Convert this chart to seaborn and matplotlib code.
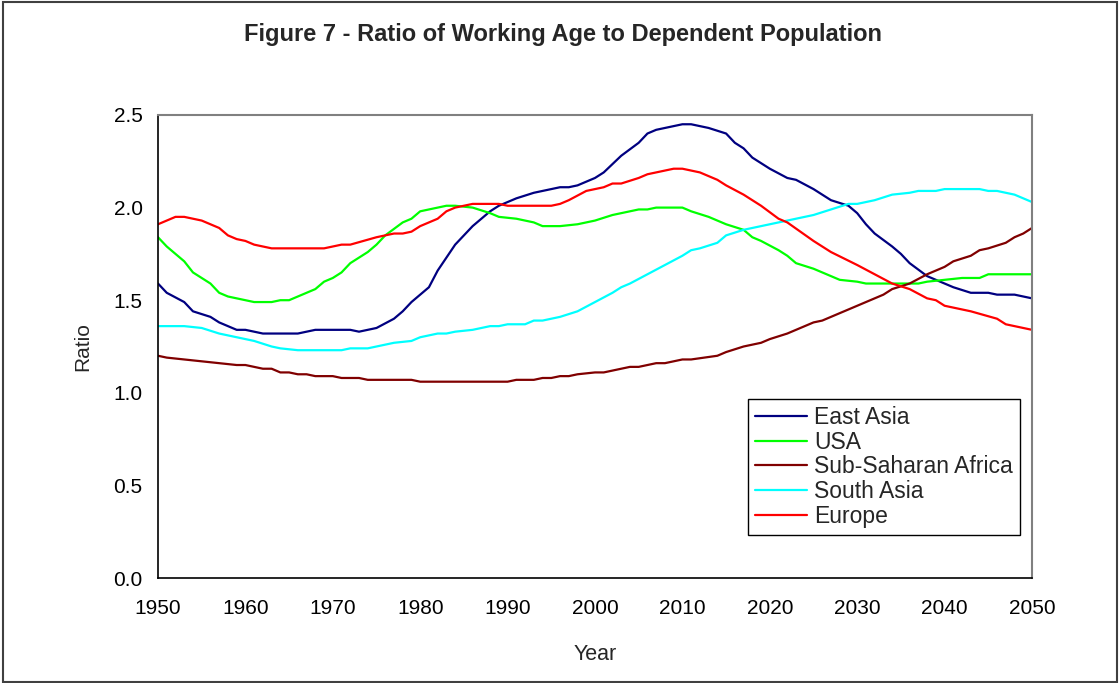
import pandas as pd
import matplotlib
matplotlib.use("Agg")
import matplotlib.pyplot as plt
from matplotlib.patches import Rectangle
import seaborn as sns

# values
east_asia_years = [1950, 1951, 1953, 1954, 1956, 1957, 1958, 1959, 1960, 1962, 1966, 1968, 1972, 1973,
                   1975, 1977, 1978, 1979, 1981, 1982, 1984, 1986, 1988, 1989, 1991, 1993, 1995, 1996,
                   1997, 1998, 2000, 2001, 2003, 2005, 2006, 2007, 2009, 2010, 2011, 2013, 2015, 2016,
                   2017, 2018, 2020, 2022, 2023, 2025, 2026, 2027, 2029, 2030, 2031, 2032, 2034, 2035,
                   2036, 2038, 2040, 2041, 2043, 2045, 2046, 2048, 2050]
east_asia = [1.59, 1.54, 1.49, 1.44, 1.41, 1.38, 1.36, 1.34, 1.34, 1.32, 1.32, 1.34, 1.34, 1.33,
             1.35, 1.40, 1.44, 1.49, 1.57, 1.66, 1.80, 1.90, 1.98, 2.01, 2.05, 2.08, 2.10, 2.11,
             2.11, 2.12, 2.16, 2.19, 2.28, 2.35, 2.40, 2.42, 2.44, 2.45, 2.45, 2.43, 2.40, 2.35,
             2.32, 2.27, 2.21, 2.16, 2.15, 2.10, 2.07, 2.04, 2.01, 1.97, 1.91, 1.86, 1.79, 1.75,
             1.70, 1.63, 1.59, 1.57, 1.54, 1.54, 1.53, 1.53, 1.51]

usa_years = [1950, 1951, 1953, 1954, 1956, 1957, 1958, 1960, 1961, 1963, 1964, 1965, 1966, 1967,
             1968, 1969, 1970, 1971, 1972, 1974, 1975, 1976, 1978, 1979, 1980, 1981, 1983, 1984,
             1986, 1988, 1989, 1991, 1993, 1994, 1996, 1998, 2000, 2002, 2005, 2006, 2007, 2010,
             2011, 2013, 2015, 2017, 2018, 2019, 2021, 2022, 2023, 2025, 2026, 2028, 2030, 2031,
             2037, 2038, 2040, 2042, 2044, 2045, 2050]
usa = [1.84, 1.79, 1.71, 1.65, 1.59, 1.54, 1.52, 1.50, 1.49, 1.49, 1.50, 1.50, 1.52, 1.54,
       1.56, 1.60, 1.62, 1.65, 1.70, 1.76, 1.80, 1.85, 1.92, 1.94, 1.98, 1.99, 2.01, 2.01,
       2.00, 1.97, 1.95, 1.94, 1.92, 1.90, 1.90, 1.91, 1.93, 1.96, 1.99, 1.99, 2.00, 2.00,
       1.98, 1.95, 1.91, 1.88, 1.84, 1.82, 1.77, 1.74, 1.70, 1.67, 1.65, 1.61, 1.60, 1.59,
       1.59, 1.60, 1.61, 1.62, 1.62, 1.64, 1.64]

ssa_years = [1950, 1951, 1953, 1955, 1957, 1959, 1960, 1962, 1963, 1964, 1965, 1966, 1967, 1968,
             1970, 1971, 1973, 1974, 1979, 1980, 1990, 1991, 1993, 1994, 1995, 1996, 1997, 1998,
             2000, 2001, 2002, 2004, 2005, 2007, 2008, 2010, 2011, 2014, 2015, 2017, 2019, 2020,
             2022, 2023, 2025, 2026, 2028, 2029, 2031, 2033, 2034, 2036, 2038, 2040, 2041, 2043,
             2044, 2045, 2047, 2048, 2049, 2050]
ssa = [1.20, 1.19, 1.18, 1.17, 1.16, 1.15, 1.15, 1.13, 1.13, 1.11, 1.11, 1.10, 1.10, 1.09,
       1.09, 1.08, 1.08, 1.07, 1.07, 1.06, 1.06, 1.07, 1.07, 1.08, 1.08, 1.09, 1.09, 1.10,
       1.11, 1.11, 1.12, 1.14, 1.14, 1.16, 1.16, 1.18, 1.18, 1.20, 1.22, 1.25, 1.27, 1.29,
       1.32, 1.34, 1.38, 1.39, 1.43, 1.45, 1.49, 1.53, 1.56, 1.59, 1.64, 1.68, 1.71, 1.74,
       1.77, 1.78, 1.81, 1.84, 1.86, 1.89]

south_asia_years = [1950, 1953, 1955, 1957, 1959, 1961, 1963, 1964, 1966, 1971, 1972, 1974, 1976, 1977,
                    1979, 1980, 1982, 1983, 1984, 1986, 1988, 1989, 1990, 1992, 1993, 1994, 1996, 1998,
                    2000, 2002, 2003, 2004, 2006, 2008, 2010, 2011, 2012, 2014, 2015, 2017, 2020, 2023,
                    2025, 2027, 2029, 2030, 2032, 2034, 2036, 2037, 2039, 2040, 2044, 2045, 2046, 2048,
                    2049, 2050]
south_asia = [1.36, 1.36, 1.35, 1.32, 1.30, 1.28, 1.25, 1.24, 1.23, 1.23, 1.24, 1.24, 1.26, 1.27,
              1.28, 1.30, 1.32, 1.32, 1.33, 1.34, 1.36, 1.36, 1.37, 1.37, 1.39, 1.39, 1.41, 1.44,
              1.49, 1.54, 1.57, 1.59, 1.64, 1.69, 1.74, 1.77, 1.78, 1.81, 1.85, 1.88, 1.91, 1.94,
              1.96, 1.99, 2.02, 2.02, 2.04, 2.07, 2.08, 2.09, 2.09, 2.10, 2.10, 2.09, 2.09, 2.07,
              2.05, 2.03]

europe_years = [1950, 1952, 1953, 1955, 1957, 1958, 1959, 1960, 1961, 1962, 1963, 1969, 1970, 1971,
                1972, 1975, 1977, 1978, 1979, 1980, 1982, 1983, 1984, 1986, 1989, 1990, 1995, 1996,
                1997, 1999, 2001, 2002, 2003, 2005, 2006, 2009, 2010, 2012, 2014, 2015, 2017, 2018,
                2019, 2021, 2022, 2025, 2027, 2030, 2032, 2034, 2036, 2038, 2039, 2040, 2041, 2043,
                2046, 2047, 2050]
europe = [1.91, 1.95, 1.95, 1.93, 1.89, 1.85, 1.83, 1.82, 1.80, 1.79, 1.78, 1.78, 1.79, 1.80,
          1.80, 1.84, 1.86, 1.86, 1.87, 1.90, 1.94, 1.98, 2.00, 2.02, 2.02, 2.01, 2.01, 2.02,
          2.04, 2.09, 2.11, 2.13, 2.13, 2.16, 2.18, 2.21, 2.21, 2.19, 2.15, 2.12, 2.07, 2.04,
          2.01, 1.94, 1.92, 1.82, 1.76, 1.69, 1.64, 1.59, 1.56, 1.51, 1.50, 1.47, 1.46, 1.44,
          1.40, 1.37, 1.34]

series_names = ["East Asia", "USA", "Sub-Saharan Africa", "South Asia", "Europe"]
series_colors = ["#000080", "#00FF00", "#800000", "#00FFFF", "#FF0000"]

# long-form table for seaborn
frames = []
for name, yrs, vals in zip(series_names,
                           [east_asia_years, usa_years, ssa_years, south_asia_years, europe_years],
                           [east_asia, usa, ssa, south_asia, europe]):
    frames.append(pd.DataFrame({"Year": yrs, "Ratio": vals, "Region": name}))
df = pd.concat(frames, ignore_index=True)

sns.set_style("white")
plt.rcParams["font.family"] = ["Liberation Sans", "DejaVu Sans"]

W, H = 1119, 683
fig = plt.figure(figsize=(W / 100, H / 100), dpi=100)
ax = fig.add_axes([158 / W, 1 - 578 / H, 874 / W, 463 / H])

sns.lineplot(data=df, x="Year", y="Ratio", hue="Region", hue_order=series_names,
             palette=series_colors, estimator=None, linewidth=1.6, ax=ax)

ax.set_xlim(1950, 2050)
ax.set_ylim(0, 2.5)
ax.set_xticks(range(1950, 2051, 10))
ax.set_yticks([0, 0.5, 1.0, 1.5, 2.0, 2.5])
ax.set_yticklabels([f"{v:.1f}" for v in [0, 0.5, 1.0, 1.5, 2.0, 2.5]])
ax.tick_params(axis="both", direction="out", length=4, width=1, color="black",
               labelsize=15, labelcolor="black")
ax.tick_params(axis="x", pad=11)
ax.tick_params(axis="y", pad=7)

for side in ["left", "bottom"]:
    ax.spines[side].set_color("black")
    ax.spines[side].set_linewidth(1.2)
for side in ["top", "right"]:
    ax.spines[side].set_color("#808080")
    ax.spines[side].set_linewidth(1.5)

ax.set_xlabel("Year", fontsize=15.5)
ax.set_ylabel("Ratio", fontsize=15)
ax.xaxis.set_label_coords(0.5, -0.142)
ax.yaxis.set_label_coords(-0.075, 0.5)

fig.text(563 / W, 1 - 35 / H, "Figure 7 - Ratio of Working Age to Dependent Population",
         ha="center", va="center", fontsize=17, fontweight="bold")

leg = ax.legend(loc="lower right", bbox_to_anchor=(0.986, 0.093), borderaxespad=0,
                fontsize=16.5, frameon=True, fancybox=False, framealpha=1,
                edgecolor="black", handlelength=2.3, handletextpad=0.3,
                labelspacing=0.08, borderpad=0.3)
leg.get_frame().set_linewidth(1.0)
for line in leg.get_lines():
    line.set_linewidth(1.6)

# chart area border
fig.patches.append(Rectangle((3 / W, 1.5 / H), 1114 / W, 679.5 / H, transform=fig.transFigure,
                             fill=False, edgecolor="#404040", linewidth=1.5))

fig.savefig("out.png", dpi=100)
